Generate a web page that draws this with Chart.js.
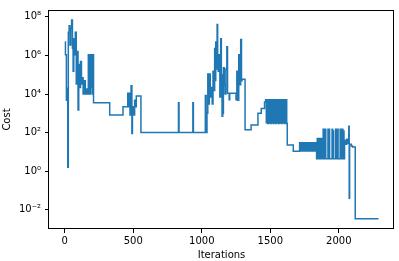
<!DOCTYPE html>
<html><head><meta charset="utf-8">
<script src="https://cdn.jsdelivr.net/npm/chart.js@4/dist/chart.umd.min.js"></script>
<style>html,body{margin:0;padding:0;background:#fff;}canvas{display:block;}</style>
</head><body>
<canvas id="c" width="399" height="261" style="width:399px;height:261px"></canvas>
<script>
const iterations = [
  0,5,12,16,22,26,32,38,44,50,56,61,66,71,77,84,90,97,102,108,115,122,128,134,143,150,158,164,172,175,180,184,189,193,198,202,206,210,
  328,425,460,465,470,476,484,490,494,502,510,516,522,556,830,834,935,939,
  1026,1032,1038,1044,1050,1055,1062,1070,1076,1082,1088,1094,1098,1102,1106,1112,1116,1120,1124,1128,1132,1138,1143,1148,1153,1158,1164,1170,1176,1183,1188,1200,1204,1250,1256,1262,1270,1276,1284,1290,1294,1316,1360,1410,1434,1458,
  1466,1471,1476,1481,1486,1491,1496,1501,1506,1511,1516,1521,1526,1531,1536,1541,1546,1551,1556,1561,1566,1571,1576,1581,1586,1591,1596,1601,1606,1611,1616,1620,1624,1668,
  1714,1719,1724,1729,1734,1739,1744,1749,1754,1759,1764,1769,1774,1779,1784,1789,1794,1799,1804,1809,1814,1819,1824,1829,1834,
  1838,1843,1848,1853,1858,1863,1868,1873,1878,1882,
  1886,1890,1894,1898,1902,1905,1921,1925,1929,1933,1951,1955,1959,1961,1976,1980,1984,1988,1992,1995,2010,2014,2018,2022,2026,2030,2034,2038,
  2042,2050,2058,2066,2073,2076,2079,2092,2100,2120,2290
];
const costs = [
  5e6,1.1e6,4.7e3,2e4,1.6,1.6e7,3.5e7,3.5e6,2.4e7,6.8e7,2.3e6,1.5e5,7.4e6,1.1e6,1.6e7,3.3e4,1.6e6,1.5e3,3.4e5,2.2e4,4.9e5,3.3e4,7e4,1e4,4.9e4,1e4,1.8e4,1e4,1.1e6,1e4,1.1e6,1e4,1.1e6,2.2e4,1.1e6,1e4,1.1e6,3500,
  810,2200,1.1e4,2200,1.1e4,810,2.7e4,90,2200,810,4700,2200,7800,100,3500,100,3500,100,
  8300,100,1000,1.1e5,3000,1.1e5,7000,2.2e4,3000,1.5e5,1.5e4,2.3e6,5e4,5e6,2e5,4e7,1e6,1.5e5,1.1e6,1.5e5,7000,7.4e6,1e5,700,1000,2.3e5,3e4,1e4,2e5,2.8e6,1.1e4,5000,1.1e4,5000,1.5e5,4700,1.1e6,3e4,6.6e6,4.9e4,5.9e4,140,250,1000,1800,3900,
  5100,320,5100,300,5100,310,5100,300,5100,320,5100,300,5100,310,5100,300,5100,320,5100,300,5100,310,5100,300,5100,320,5100,300,5100,310,5100,300,23,10.7,
  30,11,30,11,30,11,30,11,30,11,30,11,30,11,30,11,30,11,30,11,30,11,30,11,30,
  4.4,49,4.4,49,4.4,49,4.4,49,4.4,49,
  150,4.4,150,4.4,150,4.4,150,4.4,150,4.4,150,4.4,120,4.4,150,4.4,150,4.4,150,4.4,150,4.4,150,4.4,150,4.4,120,4.4,
  40,25,45,28,215,0.04,25,20,18,0.0034,0.0034
];
const xTickValues = [0, 500, 1000, 1500, 2000];
const yTickValues = [1e-2, 1e0, 1e2, 1e4, 1e6, 1e8];
const yTickLabels = ['10\u207B\u00B2', '10\u2070', '10\u00B2', '10\u2074', '10\u2076', '10\u2078'];

const points = iterations.map((x, i) => ({x: x, y: costs[i]}));
const FONT = {family: 'DejaVu Sans', size: 10};

const frame = {
  id: 'frame',
  afterDatasetsDraw(chart) {
    const {ctx, chartArea: a} = chart;
    ctx.save();
    ctx.strokeStyle = '#000';
    ctx.lineWidth = 1;
    const l = Math.round(a.left) - 0.5, t = Math.round(a.top) + 0.5;
    const r = Math.round(a.right) - 0.5, b = Math.round(a.bottom) - 0.5;
    ctx.strokeRect(l, t, r - l, b - t);
    ctx.restore();
  }
};

new Chart(document.getElementById('c'), {
  type: 'line',
  data: {datasets: [{
    data: points,
    borderColor: '#1f77b4',
    borderWidth: 1.5,
    pointRadius: 0,
    fill: false,
    stepped: 'before',
    tension: 0
  }]},
  options: {
    responsive: false,
    animation: false,
    events: [],
    layout: {padding: {top: 4, right: 5, left: 0, bottom: 0}},
    plugins: {legend: {display: false}, tooltip: {enabled: false}},
    scales: {
      x: {
        type: 'linear', min: -115, max: 2403,
        afterBuildTicks: s => { s.ticks = xTickValues.map(v => ({value: v})); },
        afterFit: s => { s.height = 32; },
        border: {display: false},
        grid: {drawOnChartArea: false, drawTicks: true, tickLength: 4, color: '#000', lineWidth: 1},
        ticks: {font: FONT, color: '#000', padding: 2, maxRotation: 0, callback: v => String(v)},
        title: {display: true, text: 'Iterations', font: FONT, color: '#000', padding: {top: 0, bottom: 0}}
      },
      y: {
        type: 'logarithmic', min: 1.01e-3, max: 2.26e8,
        afterBuildTicks: s => { s.ticks = yTickValues.map(v => ({value: v})); },
        afterFit: s => { s.width = 49; },
        border: {display: false},
        grid: {drawOnChartArea: false, drawTicks: true, tickLength: 4, color: '#000', lineWidth: 1},
        ticks: {font: FONT, color: '#000', padding: 4,
          callback: v => { const e = Math.round(Math.log10(v)); const i = yTickValues.findIndex(t => Math.round(Math.log10(t)) === e); return i >= 0 ? yTickLabels[i] : ''; }},
        title: {display: true, text: 'Cost', font: FONT, color: '#000', padding: {top: 1, bottom: 0}}
      }
    }
  },
  plugins: [frame]
});
</script>
</body></html>
